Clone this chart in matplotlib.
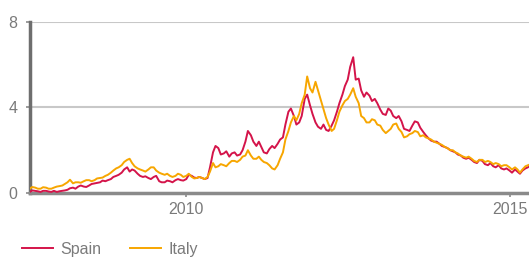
import matplotlib
matplotlib.use("Agg")
import matplotlib.pyplot as plt
import matplotlib.dates as mdates
import pandas as pd

# twice-monthly readings, Aug 2007 - May 2015
dates = pd.date_range("2007-08-01", periods=188, freq="SMS")

spain = [
    0.05, 0.12, 0.10, 0.08, 0.05, 0.10, 0.10, 0.07, 0.05, 0.10,
    0.05, 0.08, 0.10, 0.12, 0.15, 0.22, 0.25, 0.20, 0.30, 0.35,
    0.30, 0.28, 0.35, 0.42, 0.45, 0.48, 0.50, 0.58, 0.55, 0.60,
    0.65, 0.75, 0.80, 0.85, 0.95, 1.10, 1.20, 1.00, 1.10, 1.05,
    0.90, 0.80, 0.75, 0.78, 0.70, 0.65, 0.75, 0.80, 0.55, 0.50,
    0.50, 0.58, 0.55, 0.50, 0.60, 0.65, 0.60, 0.58, 0.65, 0.85,
    0.80, 0.72, 0.70, 0.75, 0.70, 0.65, 0.70, 1.20, 1.90, 2.20,
    2.10, 1.80, 1.85, 1.95, 1.70, 1.85, 1.90, 1.75, 1.80, 2.00,
    2.40, 2.90, 2.70, 2.40, 2.20, 2.40, 2.15, 1.90, 1.85, 2.05,
    2.20, 2.10, 2.30, 2.50, 2.60, 3.20, 3.80, 3.95, 3.60, 3.20,
    3.30, 3.60, 4.40, 4.60, 4.10, 3.70, 3.30, 3.10, 3.00, 3.20,
    2.95, 2.90, 3.15, 3.40, 3.80, 4.20, 4.60, 5.00, 5.30, 5.90,
    6.35, 5.30, 5.35, 4.80, 4.50, 4.70, 4.55, 4.30, 4.40, 4.20,
    3.90, 3.70, 3.65, 3.95, 3.85, 3.60, 3.50, 3.60, 3.35, 3.00,
    2.95, 2.90, 3.15, 3.35, 3.30, 3.05, 2.85, 2.70, 2.55, 2.45,
    2.40, 2.40, 2.30, 2.20, 2.15, 2.10, 2.00, 1.95, 1.90, 1.80,
    1.75, 1.65, 1.60, 1.65, 1.55, 1.45, 1.40, 1.55, 1.50, 1.35,
    1.30, 1.40, 1.25, 1.20, 1.30, 1.15, 1.10, 1.15, 1.05, 0.95,
    1.10, 1.00, 0.90, 1.05, 1.15, 1.20, 1.30, 1.25,
]

italy = [
    0.20, 0.28, 0.25, 0.20, 0.20, 0.27, 0.25, 0.20, 0.20, 0.25,
    0.30, 0.32, 0.35, 0.42, 0.50, 0.62, 0.45, 0.50, 0.50, 0.48,
    0.55, 0.60, 0.60, 0.55, 0.60, 0.68, 0.70, 0.72, 0.80, 0.85,
    0.95, 1.05, 1.15, 1.20, 1.30, 1.45, 1.55, 1.60, 1.40, 1.25,
    1.15, 1.10, 1.05, 1.00, 1.10, 1.20, 1.20, 1.05, 0.95, 0.90,
    0.85, 0.90, 0.80, 0.75, 0.80, 0.90, 0.85, 0.75, 0.80, 0.90,
    0.75, 0.68, 0.70, 0.75, 0.70, 0.65, 0.75, 1.00, 1.40, 1.20,
    1.25, 1.35, 1.30, 1.25, 1.40, 1.50, 1.50, 1.45, 1.55, 1.70,
    1.75, 2.00, 1.75, 1.60, 1.60, 1.70, 1.55, 1.45, 1.40, 1.30,
    1.15, 1.10, 1.30, 1.60, 1.90, 2.50, 2.90, 3.30, 3.60, 3.40,
    3.70, 4.20, 4.60, 5.45, 4.90, 4.70, 5.20, 4.80, 4.30, 3.90,
    3.50, 3.20, 2.90, 3.00, 3.40, 3.80, 4.10, 4.30, 4.40, 4.60,
    4.90, 4.50, 4.20, 3.60, 3.50, 3.30, 3.30, 3.45, 3.40, 3.20,
    3.15, 2.95, 2.80, 2.90, 3.00, 3.20, 3.25, 3.00, 2.85, 2.60,
    2.65, 2.75, 2.80, 2.90, 2.85, 2.65, 2.70, 2.60, 2.55, 2.50,
    2.40, 2.35, 2.30, 2.25, 2.15, 2.10, 2.00, 2.00, 1.90, 1.85,
    1.75, 1.70, 1.65, 1.70, 1.60, 1.50, 1.45, 1.55, 1.55, 1.45,
    1.50, 1.45, 1.35, 1.40, 1.35, 1.25, 1.30, 1.30, 1.20, 1.10,
    1.20, 1.10, 0.95, 1.10, 1.25, 1.30, 1.35, 1.30,
]

y_ticks = [0, 4, 8]
x_ticks = ["2010-01-01", "2015-01-01"]

plt.rcParams["font.family"] = ["Liberation Sans", "DejaVu Sans"]

fig = plt.figure(figsize=(5.29, 2.58), dpi=100)
ax = fig.add_axes([0.057, 0.252, 0.95, 0.663])

ax.plot(dates, spain, color="#d4144a", lw=1.4, label="Spain", zorder=3)
ax.plot(dates, italy, color="#f7a600", lw=1.4, label="Italy", zorder=4)

ax.set_ylim(0, 8)
ax.set_yticks(y_ticks)
ax.set_xlim(pd.Timestamp("2007-08-03"), pd.Timestamp("2015-05-12"))
ax.set_xticks(pd.to_datetime(x_ticks))
ax.xaxis.set_major_formatter(mdates.DateFormatter("%Y"))

ax.grid(axis="y", color="#c8c8c8", lw=1.5, zorder=0)
for side in ["top", "right"]:
    ax.spines[side].set_visible(False)
ax.spines["left"].set_color("#6e6e6e")
ax.spines["left"].set_linewidth(2.5)
ax.spines["bottom"].set_color("#8a8a8a")
ax.spines["bottom"].set_linewidth(2.5)
ax.tick_params(colors="#8a8a8a", labelcolor="#7a7a7a", labelsize=11.5,
               length=3, width=1.2)
ax.tick_params(axis="y", pad=6)

fig.legend(loc="lower left", bbox_to_anchor=(0.015, -0.05), ncol=2,
           frameon=False, fontsize=11.5, handlelength=1.9,
           handletextpad=0.5, columnspacing=1.8, labelcolor="#7a7a7a")

fig.savefig("out.png", dpi=100)
